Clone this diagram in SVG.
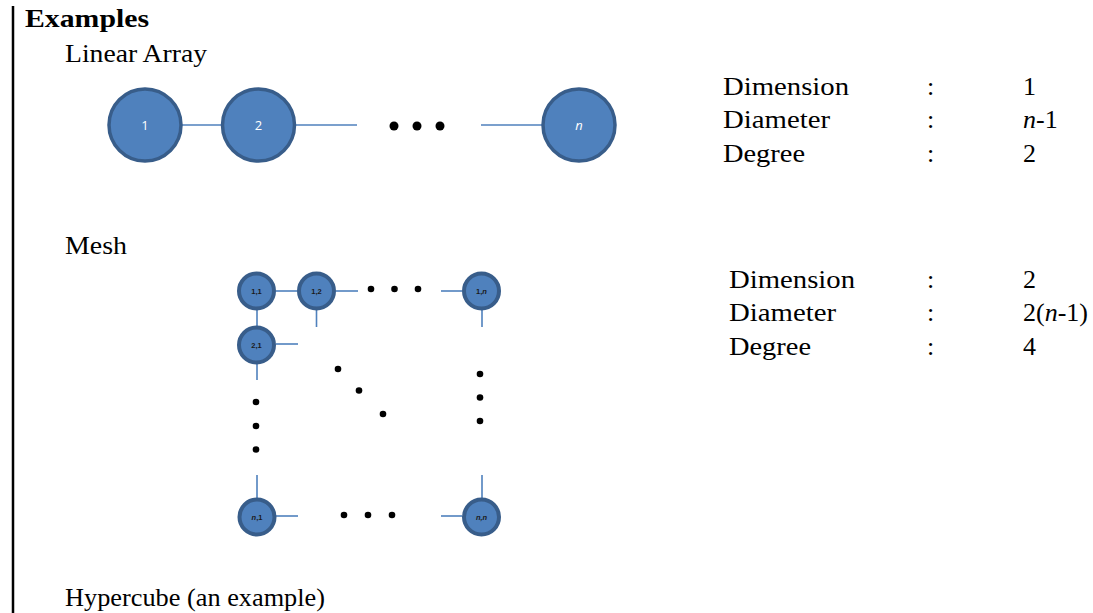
<svg xmlns="http://www.w3.org/2000/svg" width="1093" height="613" viewBox="0 0 1093 613">
<style>
.t{font-family:"Liberation Serif","Times New Roman",serif;font-size:26px;fill:#000}
.b{font-weight:bold}
.big{fill:#4F81BD;stroke:#385D8A;stroke-width:3.5}
.sm{fill:#4F81BD;stroke:#385D8A;stroke-width:4}
.lw{font-family:"Open Sans","Liberation Sans",sans-serif;font-size:13px;fill:#fff;text-anchor:middle}
.ld{font-family:"Liberation Sans",Arial,sans-serif;font-size:7.5px;font-weight:bold;fill:#1a1a1a;text-anchor:middle}
.e{stroke:#4F81BD;stroke-width:1.6;fill:none}
.d{fill:#000}
</style>
<rect width="1093" height="613" fill="#fff"/>
<line x1="13" y1="6" x2="13" y2="613" stroke="#000" stroke-width="2.5"/>
<g id="headings">
<text class="t b" x="25" y="27" font-size="26" textLength="124" lengthAdjust="spacingAndGlyphs">Examples</text>
<text class="t" x="65" y="62" textLength="142" lengthAdjust="spacingAndGlyphs">Linear Array</text>
<text class="t" x="65" y="254" textLength="62" lengthAdjust="spacingAndGlyphs">Mesh</text>
<text class="t" x="65" y="606" textLength="260" lengthAdjust="spacingAndGlyphs">Hypercube (an example)</text>
</g>
<g id="linear-props">
<text class="t" x="723" y="95" textLength="126" lengthAdjust="spacingAndGlyphs">Dimension</text>
<text class="t" x="927" y="95">:</text>
<text class="t" x="1023" y="95">1</text>
<text class="t" x="723" y="128" textLength="107" lengthAdjust="spacingAndGlyphs">Diameter</text>
<text class="t" x="927" y="128">:</text>
<text class="t" x="1023" y="128"><tspan font-style="italic">n</tspan>-1</text>
<text class="t" x="723" y="162" textLength="82" lengthAdjust="spacingAndGlyphs">Degree</text>
<text class="t" x="927" y="162">:</text>
<text class="t" x="1023" y="162">2</text>
</g>
<g id="mesh-props">
<text class="t" x="729" y="288" textLength="126" lengthAdjust="spacingAndGlyphs">Dimension</text>
<text class="t" x="927" y="288">:</text>
<text class="t" x="1023" y="288">2</text>
<text class="t" x="729" y="321" textLength="107" lengthAdjust="spacingAndGlyphs">Diameter</text>
<text class="t" x="927" y="321">:</text>
<text class="t" x="1023" y="321">2(<tspan font-style="italic">n</tspan>-1)</text>
<text class="t" x="729" y="355" textLength="82" lengthAdjust="spacingAndGlyphs">Degree</text>
<text class="t" x="927" y="355">:</text>
<text class="t" x="1023" y="355">4</text>
</g>
<g id="connectors">
<line class="e" x1="182" y1="125" x2="221" y2="125"/>
<line class="e" x1="296" y1="125" x2="357" y2="125"/>
<line class="e" x1="481" y1="125" x2="542" y2="125"/>
<line class="e" x1="276" y1="291" x2="297" y2="291"/>
<line class="e" x1="336" y1="291" x2="358" y2="291"/>
<line class="e" x1="441" y1="291" x2="462" y2="291"/>
<line class="e" x1="316.5" y1="310" x2="316.5" y2="327"/>
<line class="e" x1="482" y1="310" x2="482" y2="327"/>
<line class="e" x1="257" y1="310" x2="257" y2="326"/>
<line class="e" x1="276" y1="344" x2="298" y2="344"/>
<line class="e" x1="257" y1="364" x2="257" y2="380"/>
<line class="e" x1="257" y1="475" x2="257" y2="498"/>
<line class="e" x1="276" y1="516" x2="298" y2="516"/>
<line class="e" x1="441" y1="516" x2="462" y2="516"/>
<line class="e" x1="482" y1="475" x2="482" y2="498"/>
</g>
<g id="dots">
<circle class="d" cx="394" cy="126" r="4.5"/>
<circle class="d" cx="417" cy="126" r="4.5"/>
<circle class="d" cx="440" cy="126" r="4.5"/>
<circle class="d" cx="371" cy="289" r="3.3"/>
<circle class="d" cx="394.5" cy="289" r="3.3"/>
<circle class="d" cx="418" cy="289" r="3.3"/>
<circle class="d" cx="338" cy="369" r="3.3"/>
<circle class="d" cx="359" cy="390.5" r="3.3"/>
<circle class="d" cx="383" cy="414" r="3.3"/>
<circle class="d" cx="480" cy="374" r="3.3"/>
<circle class="d" cx="480" cy="397.5" r="3.3"/>
<circle class="d" cx="480" cy="421" r="3.3"/>
<circle class="d" cx="256" cy="402" r="3.3"/>
<circle class="d" cx="256" cy="426" r="3.3"/>
<circle class="d" cx="256" cy="449.5" r="3.3"/>
<circle class="d" cx="344" cy="515" r="3.3"/>
<circle class="d" cx="368" cy="515" r="3.3"/>
<circle class="d" cx="392" cy="515" r="3.3"/>
</g>
<g id="n1"><circle class="big" cx="145" cy="125" r="36"/><text class="lw" x="145" y="130">1</text></g>
<g id="n2"><circle class="big" cx="258.5" cy="125" r="36"/><text class="lw" x="258.5" y="130">2</text></g>
<g id="nn"><circle class="big" cx="579" cy="125" r="36"/><text class="lw" x="579" y="130" font-style="italic">n</text></g>
<g id="m11"><circle class="sm" cx="256.5" cy="291" r="17.5"/><text class="ld" x="256.5" y="293.5">1,1</text></g>
<g id="m12"><circle class="sm" cx="316.5" cy="291" r="17.5"/><text class="ld" x="316.5" y="293.5">1,2</text></g>
<g id="m1n"><circle class="sm" cx="481.5" cy="291" r="17.5"/><text class="ld" x="481.5" y="293.5">1,<tspan font-style="italic">n</tspan></text></g>
<g id="m21"><circle class="sm" cx="256.5" cy="345" r="17.5"/><text class="ld" x="256.5" y="347.5">2,1</text></g>
<g id="mn1"><circle class="sm" cx="257" cy="517" r="17.5"/><text class="ld" x="257" y="519.5"><tspan font-style="italic">n</tspan>,1</text></g>
<g id="mnn"><circle class="sm" cx="481.5" cy="517" r="17.5"/><text class="ld" x="481.5" y="519.5" font-style="italic">n,n</text></g>
</svg>
